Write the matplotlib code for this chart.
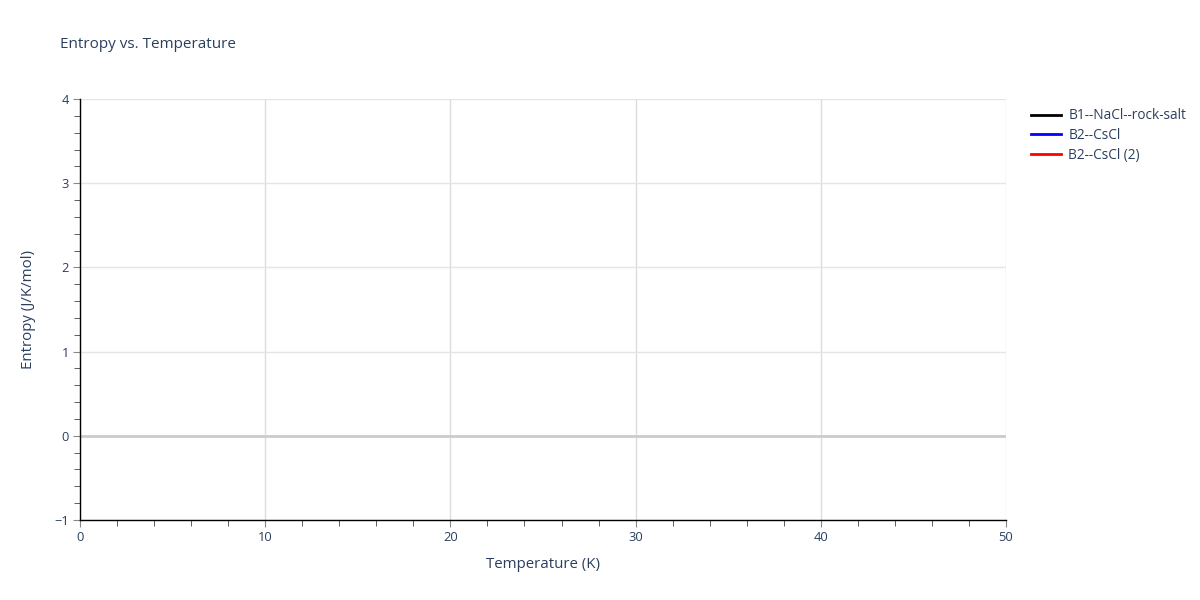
import matplotlib
matplotlib.use("Agg")
import matplotlib.pyplot as plt
from matplotlib.ticker import MultipleLocator

plt.rcParams['font.family'] = ['Open Sans', 'DejaVu Sans']

# Data (series are empty in the reference)
series_names = ["B1--NaCl--rock-salt", "B2--CsCl", "B2--CsCl (2)"]
series_colors = ["black", "blue", "red"]
temperature = {name: [] for name in series_names}
entropy = {name: [] for name in series_names}

x_ticks = [0, 10, 20, 30, 40, 50]
y_ticks = [-1, 0, 1, 2, 3, 4]

txt = "#2a3f5f"
fig = plt.figure(figsize=(12, 6), dpi=100)
ax = fig.add_axes([80/1200, 80/600, 926/1200, 421/600])

for name, c in zip(series_names, series_colors):
    ax.plot(temperature[name], entropy[name], color=c, lw=2, label=name)

ax.set_xlim(0, 50)
ax.set_ylim(-1, 4)
ax.set_xticks(x_ticks)
ax.set_yticks(y_ticks)
ax.set_yticklabels(["\u22121" if v < 0 else str(v) for v in y_ticks])
ax.xaxis.set_minor_locator(MultipleLocator(2))
ax.yaxis.set_minor_locator(MultipleLocator(0.2))

ax.grid(True, which='major', axis='y', color='#e5e5e5', lw=1)
ax.grid(True, which='major', axis='x', color='#dcdcdc', lw=1)
ax.axhline(0, color='#cccccc', lw=2, zorder=1)
ax.set_axisbelow(True)
for side in ['top', 'right']:
    ax.spines[side].set_visible(False)
for side in ['left', 'bottom']:
    ax.spines[side].set_color('black')
    ax.spines[side].set_linewidth(1)

ax.tick_params(which='major', direction='out', length=5, color='#888888',
               labelcolor=txt, labelsize=9.3, pad=3)
ax.tick_params(which='minor', direction='out', length=4, color='#444444')

ax.set_xlabel("Temperature (K)", color=txt, fontsize=10.8, labelpad=9)
ax.set_ylabel("Entropy (J/K/mol)", color=txt, fontsize=10.8, labelpad=13)

fig.text(60/1200, 1 - 45/600, "Entropy vs. Temperature", color=txt,
         fontsize=11, va='center', ha='left')

fig.legend(loc='upper left', bbox_to_anchor=(1026/1200, 1 - 103/600),
           frameon=False, fontsize=9.8, labelcolor=txt, handlelength=2.2,
           handletextpad=0.5, labelspacing=0.35, borderaxespad=0)

fig.savefig("out.png", dpi=100, facecolor='white')
